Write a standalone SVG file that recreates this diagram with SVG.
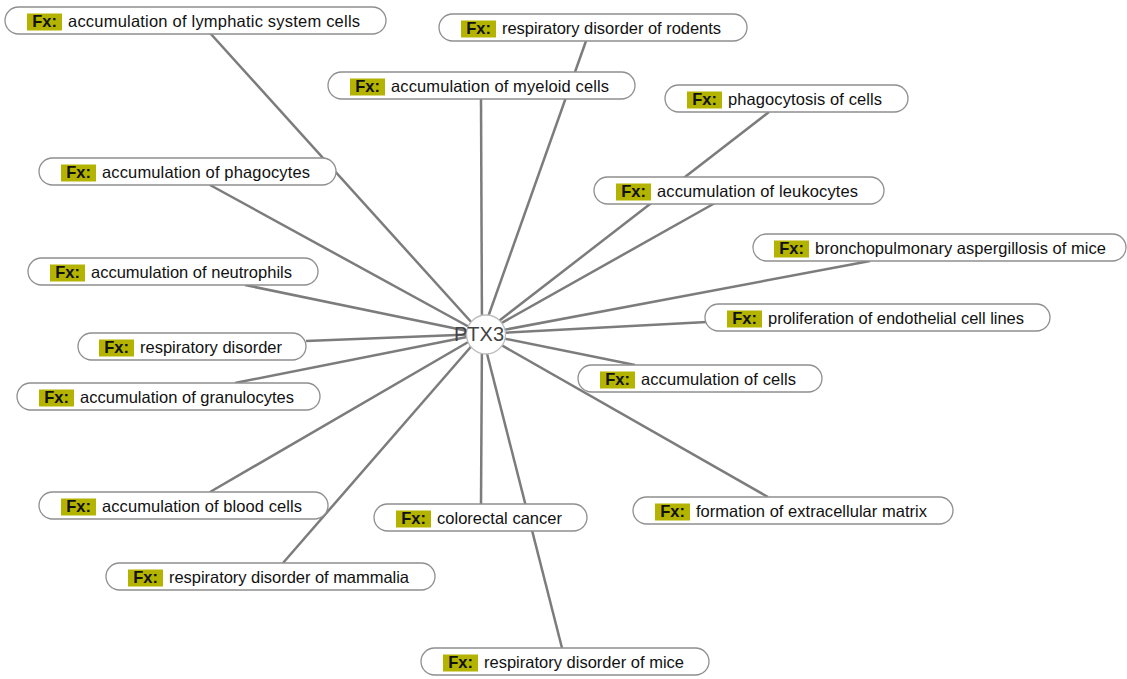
<svg xmlns="http://www.w3.org/2000/svg" width="1127" height="679" viewBox="0 0 1127 679">
<style>
.bg{fill:#ffffff}
.edge{stroke:#7c7c7c;stroke-width:2.5;fill:none}
.pill{fill:#ffffff;stroke:#8f8f8f;stroke-width:1.3}
.badge{fill:#b4b400}
.fx{font-family:"Liberation Sans",Arial,sans-serif;font-size:16.5px;font-weight:bold;fill:#111;text-anchor:middle}
.lbl{font-family:"Liberation Sans",Arial,sans-serif;font-size:16.5px;fill:#111}
.hub{fill:#ffffff;stroke:#bdbdbd;stroke-width:1.3}
.hubt{font-family:"Liberation Sans",Arial,sans-serif;font-size:20px;fill:#444;text-anchor:middle}
</style>
<rect class="bg" x="0" y="0" width="1127" height="679"/>
<g id="connectors">
<line class="edge" x1="482" y1="334" x2="210" y2="33"/>
<line class="edge" x1="482" y1="334" x2="586" y2="41"/>
<line class="edge" x1="482" y1="334" x2="481" y2="99"/>
<line class="edge" x1="482" y1="334" x2="769" y2="112"/>
<line class="edge" x1="482" y1="334" x2="210" y2="185"/>
<line class="edge" x1="482" y1="334" x2="715" y2="203"/>
<line class="edge" x1="482" y1="334" x2="870" y2="261"/>
<line class="edge" x1="482" y1="334" x2="245" y2="285"/>
<line class="edge" x1="482" y1="334" x2="707" y2="322"/>
<line class="edge" x1="482" y1="334" x2="306" y2="341"/>
<line class="edge" x1="482" y1="334" x2="635" y2="365"/>
<line class="edge" x1="482" y1="334" x2="235" y2="383"/>
<line class="edge" x1="482" y1="334" x2="210" y2="492"/>
<line class="edge" x1="482" y1="334" x2="481" y2="504"/>
<line class="edge" x1="482" y1="334" x2="768" y2="497"/>
<line class="edge" x1="482" y1="334" x2="283" y2="563"/>
<line class="edge" x1="482" y1="334" x2="562" y2="648"/>
</g>
<g id="n-ptx3">
<circle class="hub" cx="486" cy="334.5" r="19.5"/>
<text class="hubt" x="479" y="341">PTX3</text>
</g>
<g id="n1" transform="translate(5,7)"><rect class="pill" x="0" y="0" width="381" height="27" rx="13.5"/><rect class="badge" x="22" y="6.5" width="35" height="17"/><text class="fx" x="39.5" y="20">Fx:</text><text class="lbl" x="63" y="20" textLength="292" lengthAdjust="spacing">accumulation of lymphatic system cells</text></g>
<g id="n2" transform="translate(439,14)"><rect class="pill" x="0" y="0" width="308" height="27" rx="13.5"/><rect class="badge" x="22" y="6.5" width="35" height="17"/><text class="fx" x="39.5" y="20">Fx:</text><text class="lbl" x="63" y="20" textLength="219" lengthAdjust="spacing">respiratory disorder of rodents</text></g>
<g id="n3" transform="translate(328,72)"><rect class="pill" x="0" y="0" width="307" height="27" rx="13.5"/><rect class="badge" x="22" y="6.5" width="35" height="17"/><text class="fx" x="39.5" y="20">Fx:</text><text class="lbl" x="63" y="20" textLength="218" lengthAdjust="spacing">accumulation of myeloid cells</text></g>
<g id="n4" transform="translate(665,85)"><rect class="pill" x="0" y="0" width="243" height="27" rx="13.5"/><rect class="badge" x="22" y="6.5" width="35" height="17"/><text class="fx" x="39.5" y="20">Fx:</text><text class="lbl" x="63" y="20" textLength="154" lengthAdjust="spacing">phagocytosis of cells</text></g>
<g id="n5" transform="translate(39,158)"><rect class="pill" x="0" y="0" width="297" height="27" rx="13.5"/><rect class="badge" x="22" y="6.5" width="35" height="17"/><text class="fx" x="39.5" y="20">Fx:</text><text class="lbl" x="63" y="20" textLength="208" lengthAdjust="spacing">accumulation of phagocytes</text></g>
<g id="n6" transform="translate(594,177)"><rect class="pill" x="0" y="0" width="290" height="27" rx="13.5"/><rect class="badge" x="22" y="6.5" width="35" height="17"/><text class="fx" x="39.5" y="20">Fx:</text><text class="lbl" x="63" y="20" textLength="201" lengthAdjust="spacing">accumulation of leukocytes</text></g>
<g id="n7" transform="translate(753,234)"><rect class="pill" x="0" y="0" width="373" height="27" rx="13.5"/><rect class="badge" x="21" y="6.5" width="35" height="17"/><text class="fx" x="38.5" y="20">Fx:</text><text class="lbl" x="62" y="20" textLength="291" lengthAdjust="spacing">bronchopulmonary aspergillosis of mice</text></g>
<g id="n8" transform="translate(28,258)"><rect class="pill" x="0" y="0" width="290" height="27" rx="13.5"/><rect class="badge" x="22" y="6.5" width="35" height="17"/><text class="fx" x="39.5" y="20">Fx:</text><text class="lbl" x="63" y="20" textLength="201" lengthAdjust="spacing">accumulation of neutrophils</text></g>
<g id="n9" transform="translate(705,304)"><rect class="pill" x="0" y="0" width="345" height="27" rx="13.5"/><rect class="badge" x="22" y="6.5" width="35" height="17"/><text class="fx" x="39.5" y="20">Fx:</text><text class="lbl" x="63" y="20" textLength="256" lengthAdjust="spacing">proliferation of endothelial cell lines</text></g>
<g id="n10" transform="translate(78,333)"><rect class="pill" x="0" y="0" width="228" height="27" rx="13.5"/><rect class="badge" x="21" y="6.5" width="35" height="17"/><text class="fx" x="38.5" y="20">Fx:</text><text class="lbl" x="62" y="20" textLength="142" lengthAdjust="spacing">respiratory disorder</text></g>
<g id="n11" transform="translate(578,365)"><rect class="pill" x="0" y="0" width="244" height="27" rx="13.5"/><rect class="badge" x="22" y="6.5" width="35" height="17"/><text class="fx" x="39.5" y="20">Fx:</text><text class="lbl" x="63" y="20" textLength="155" lengthAdjust="spacing">accumulation of cells</text></g>
<g id="n12" transform="translate(17,383)"><rect class="pill" x="0" y="0" width="303" height="27" rx="13.5"/><rect class="badge" x="22" y="6.5" width="35" height="17"/><text class="fx" x="39.5" y="20">Fx:</text><text class="lbl" x="63" y="20" textLength="214" lengthAdjust="spacing">accumulation of granulocytes</text></g>
<g id="n13" transform="translate(39,492)"><rect class="pill" x="0" y="0" width="289" height="27" rx="13.5"/><rect class="badge" x="22" y="6.5" width="35" height="17"/><text class="fx" x="39.5" y="20">Fx:</text><text class="lbl" x="63" y="20" textLength="200" lengthAdjust="spacing">accumulation of blood cells</text></g>
<g id="n14" transform="translate(374,504)"><rect class="pill" x="0" y="0" width="213" height="27" rx="13.5"/><rect class="badge" x="22" y="6.5" width="35" height="17"/><text class="fx" x="39.5" y="20">Fx:</text><text class="lbl" x="63" y="20" textLength="125" lengthAdjust="spacing">colorectal cancer</text></g>
<g id="n15" transform="translate(633,497)"><rect class="pill" x="0" y="0" width="320" height="27" rx="13.5"/><rect class="badge" x="22" y="6.5" width="35" height="17"/><text class="fx" x="39.5" y="20">Fx:</text><text class="lbl" x="63" y="20" textLength="231" lengthAdjust="spacing">formation of extracellular matrix</text></g>
<g id="n16" transform="translate(106,563)"><rect class="pill" x="0" y="0" width="329" height="27" rx="13.5"/><rect class="badge" x="22" y="6.5" width="35" height="17"/><text class="fx" x="39.5" y="20">Fx:</text><text class="lbl" x="63" y="20" textLength="240" lengthAdjust="spacing">respiratory disorder of mammalia</text></g>
<g id="n17" transform="translate(421,648)"><rect class="pill" x="0" y="0" width="288" height="27" rx="13.5"/><rect class="badge" x="22" y="6.5" width="35" height="17"/><text class="fx" x="39.5" y="20">Fx:</text><text class="lbl" x="63" y="20" textLength="200" lengthAdjust="spacing">respiratory disorder of mice</text></g>
</svg>
